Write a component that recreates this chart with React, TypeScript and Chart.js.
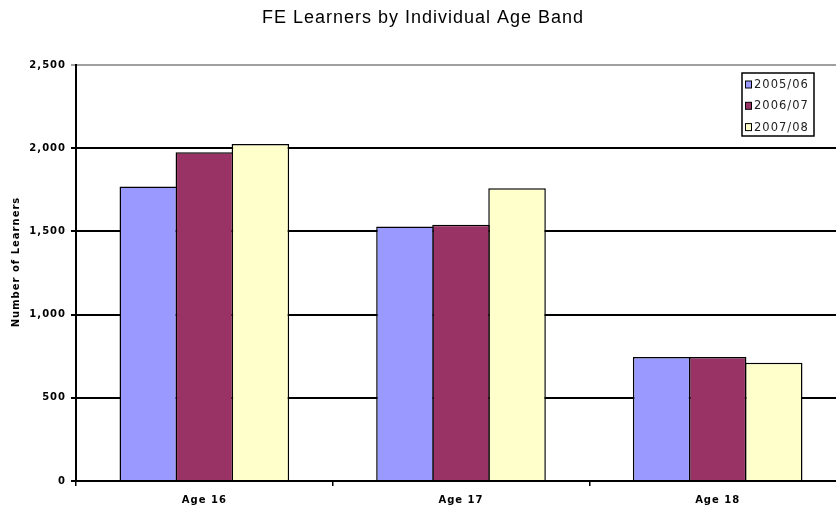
import React, { useEffect, useRef } from "react";
import { Chart, registerables } from "chart.js";

Chart.register(...registerables);

const categories = ["Age 16", "Age 17", "Age 18"];
const seriesLabels = ["2005/06", "2006/07", "2007/08"];
const values0506 = [1770, 1530, 745];
const values0607 = [1975, 1540, 745];
const values0708 = [2025, 1760, 710];
const seriesColors = ["#9999FF", "#993366", "#FFFFCC"];
const yTicks = [0, 500, 1000, 1500, 2000, 2500];
const yAxisTitle = "Number of Learners";
const chartTitle = "FE Learners by Individual Age Band";

const TICK_FONT = "'DejaVu Sans', sans-serif";

const spacingPlugin = {
  id: "spacing",
  beforeDraw(chart: any) {
    chart.ctx.letterSpacing = "1px";
  },
};

const extrasPlugin = {
  id: "extras",
  afterDraw(chart: any) {
    const ctx = chart.ctx;
    ctx.save();
    ctx.letterSpacing = "1px";
    // y axis title
    ctx.save();
    ctx.translate(16, 262);
    ctx.rotate(-Math.PI / 2);
    ctx.font = `bold 10px ${TICK_FONT}`;
    ctx.fillStyle = "#000";
    ctx.textAlign = "center";
    ctx.textBaseline = "middle";
    ctx.fillText(yAxisTitle, 0, 0);
    ctx.restore();
    // legend
    const x0 = 742, y0 = 73, w = 72, h = 63;
    ctx.fillStyle = "#fff";
    ctx.fillRect(x0, y0, w, h);
    ctx.strokeStyle = "#000";
    ctx.lineWidth = 1.5;
    ctx.strokeRect(x0, y0, w, h);
    ctx.font = `11.5px ${TICK_FONT}`;
    ctx.textBaseline = "middle";
    ctx.textAlign = "left";
    chart.data.datasets.forEach((ds: any, i: number) => {
      const cy = y0 + 11.5 + i * 21.3;
      ctx.fillStyle = ds.backgroundColor;
      ctx.fillRect(x0 + 3.5, cy - 3.5, 6, 7);
      ctx.strokeStyle = "#000";
      ctx.lineWidth = 1;
      ctx.strokeRect(x0 + 3.5, cy - 3.5, 6, 7);
      ctx.fillStyle = "#222";
      ctx.fillText(ds.label, x0 + 12, cy + 0.5);
    });
    ctx.restore();
  },
};

export default function App() {
  const ref = useRef<HTMLCanvasElement | null>(null);
  useEffect(() => {
    if (!ref.current) return;
    const data = [values0506, values0607, values0708];
    const chart = new Chart(ref.current, {
      type: "bar",
      data: {
        labels: categories,
        datasets: seriesLabels.map((l, i) => ({
          label: l,
          data: data[i],
          backgroundColor: seriesColors[i],
          borderColor: "#000",
          borderWidth: 1.5,
          categoryPercentage: 0.655,
          barPercentage: 1.027,
        })),
      },
      options: {
        responsive: false,
        animation: false,
        events: [],
        layout: { padding: 0 },
        plugins: {
          legend: { display: false },
          tooltip: { enabled: false },
          title: {
            display: true,
            text: chartTitle,
            color: "#000",
            font: { family: "'Liberation Sans', Arial, sans-serif", size: 18, weight: "normal" },
            padding: { top: 7.7, bottom: 35.7 },
          },
        },
        scales: {
          x: {
            grid: {
              offset: true,
              drawOnChartArea: false,
              color: "#000",
              lineWidth: 1.5,
              tickLength: 5,
            },
            border: { display: true, color: "#000", width: 2 },
            ticks: {
              color: "#000",
              padding: 8,
              font: { family: TICK_FONT, size: 10, weight: "bold" },
            },
            afterFit: (s: any) => {
              s.height = 28;
            },
          },
          y: {
            min: 0,
            max: 2500,
            afterBuildTicks: (s: any) => {
              s.ticks = yTicks.map((v) => ({ value: v }));
            },
            grid: {
              color: (c: any) => (c.tick && c.tick.value === 2500 ? "#a0a0a0" : "#000"),
              lineWidth: 2,
              tickLength: 5,
            },
            border: { display: true, color: "#000", width: 2 },
            ticks: {
              color: "#000",
              padding: 5,
              font: { family: TICK_FONT, size: 10, weight: "bold" },
              callback: (v: any) => Number(v).toLocaleString("en-US"),
            },
            afterFit: (s: any) => {
              s.width = 76;
            },
          },
        },
      },
      plugins: [spacingPlugin, extrasPlugin],
    });
    return () => chart.destroy();
  }, []);
  return (
    <div
      style={{
        position: "fixed",
        left: 0,
        top: 0,
        width: 836,
        height: 509,
        overflow: "hidden",
        background: "#fff",
      }}
    >
      <canvas ref={ref} width={846} height={509} style={{ display: "block" }} />
    </div>
  );
}
